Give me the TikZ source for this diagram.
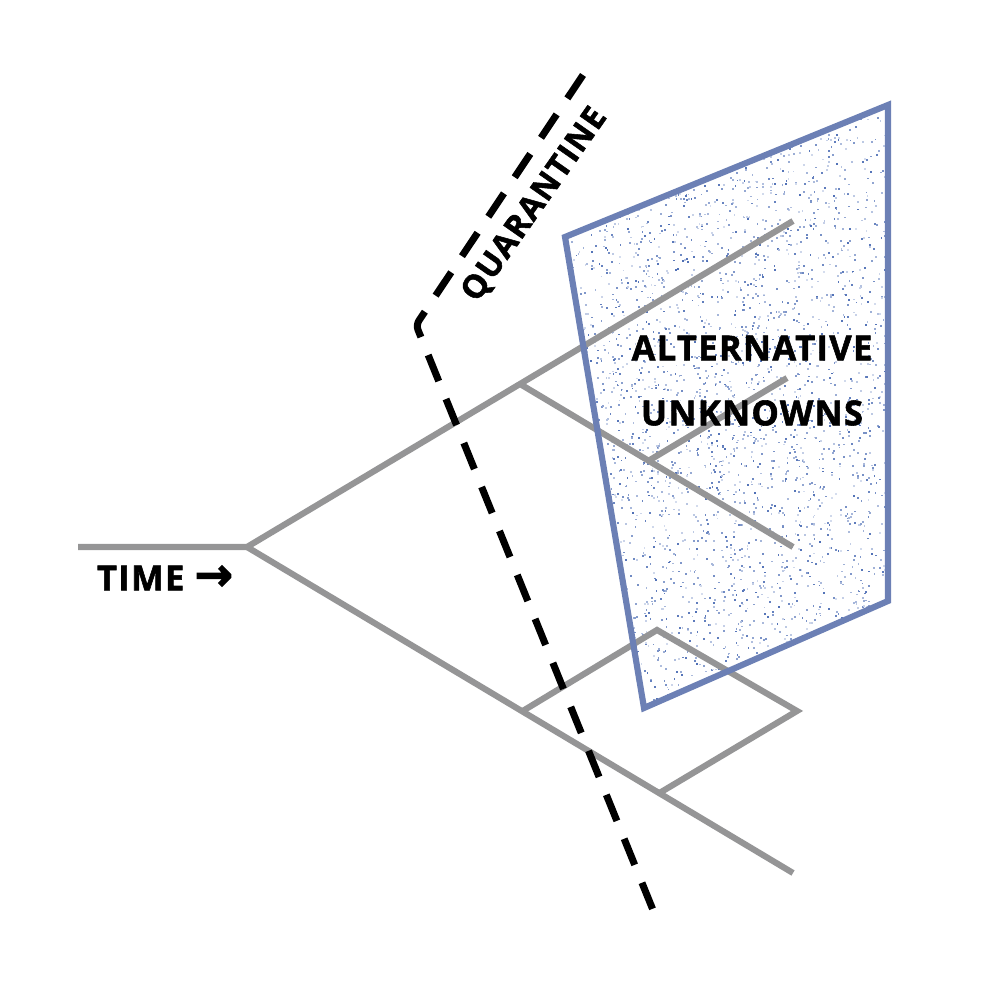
\documentclass[tikz,border=0pt]{standalone}
\usepackage{fontspec}
\setmainfont{Open Sans}[BoldFeatures={FakeBold=1.6, LetterSpace=4}]
\newfontfamily\arrowfont{DejaVu Sans}[FakeBold=2.5]
\usetikzlibrary{calc}
\definecolor{qtGray}{HTML}{959596}
\definecolor{qtBlue}{HTML}{6C80B5}
\definecolor{qtDot}{HTML}{2F55A8}
\tikzset{
  branch/.style={line width=1.75pt, draw=qtGray},
  fence/.style={line width=2pt, draw=black, dash pattern=on 8pt off 5.5pt, rounded corners=1.5pt},
  zonebox/.style={line width=1.75pt, draw=qtBlue, line join=miter},
  lbl/.style={font=\bfseries\fontsize{9.8}{11}\selectfont, text=black, inner sep=0pt}
}

\begin{document}
\begin{tikzpicture}
  \useasboundingbox (0,0) rectangle (10,10);
  % tree points
  \coordinate (start) at (0.78,4.53);
  \coordinate (fork) at (2.47,4.53);
  \coordinate (upEnd) at (7.93,7.79);
  \coordinate (lowEnd) at (7.93,1.27);
  \coordinate (upNode) at ($(fork)!0.5!(upEnd)$);
  \coordinate (upMidEnd) at (7.93,4.53);
  \coordinate (midNode) at ($(upNode)!0.471!(upMidEnd)$);
  \coordinate (midEnd) at (7.87,6.22);
  \coordinate (lowNode) at ($(fork)!0.504!(lowEnd)$);
  \coordinate (dTop) at (6.57,3.70);
  \coordinate (dRight) at (7.97,2.89);
  \coordinate (dBottom) at ($(fork)!0.755!(lowEnd)$);
  % zone corners
  \coordinate (zA) at (5.65,7.63);
  \coordinate (zB) at (8.88,8.95);
  \coordinate (zC) at (8.88,3.99);
  \coordinate (zD) at (6.44,2.92);
  % quarantine line
  \coordinate (qTop) at (5.83,9.25);
  \coordinate (qBend) at (4.16,6.75);
  \coordinate (qEnd) at (6.55,0.85);

  % stipple
  \begin{scope}
    \clip (zA) -- (zB) -- (zC) -- (zD) -- cycle;
    \pgfmathsetseed{7}
    \foreach \i in {1,...,3400}{
      \pgfmathsetmacro{\px}{5.65+3.23*rnd}
      \pgfmathsetmacro{\py}{2.92+6.03*rnd}
      \pgfmathsetmacro{\pc}{int(20+65*rnd)}
      \fill[qtDot!\pc] (\px,\py) rectangle ++(0.018,0.018);
    }
  \end{scope}

  % branches
  \draw[branch] (start) -- (fork) -- (upEnd);
  \draw[branch] (fork) -- (lowEnd);
  \draw[branch] (upNode) -- (upMidEnd);
  \draw[branch] (midNode) -- (midEnd);
  \draw[branch] (lowNode) -- (dTop) -- (dRight) -- (dBottom);

  \draw[zonebox] (zA) -- (zB) -- (zC) -- (zD) -- cycle;

  \draw[fence] (qTop) -- (qBend) -- (qEnd);

  % labels
  \node[lbl] (alt) at (7.52,6.52) {ALTERNATIVE};
  \node[lbl] (unk) at (7.52,5.87) {UNKNOWNS};
  \node[lbl] (time) at (1.65,4.22) {TIME\hspace{0.3em}{\arrowfont\fontsize{13}{13}\selectfont →}};
  \node[lbl, rotate=55, font=\bfseries\fontsize{9.2}{11}\selectfont] (quar) at (5.35,7.95) {QUARANTINE};
\end{tikzpicture}
\end{document}
